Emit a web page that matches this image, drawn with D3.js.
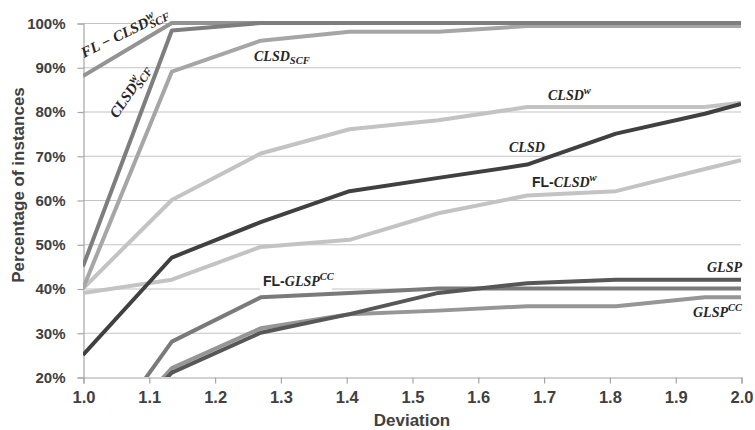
<!DOCTYPE html>
<html>
<head>
<meta charset="utf-8">
<script src="https://cdn.jsdelivr.net/npm/d3@7"></script>
<style>
  body { margin: 0; background: #fff; }
  svg { display: block; }
</style>
</head>
<body>
<div id="chart"></div>
<script>
const w = 755;
const h = 430;

// data
const deviation = [1.0, 1.135, 1.27, 1.405, 1.54, 1.675, 1.81, 1.945, 2.0];
const yTicks = [20, 30, 40, 50, 60, 70, 80, 90, 100];
const xTicks = [1.0, 1.1, 1.2, 1.3, 1.4, 1.5, 1.6, 1.7, 1.8, 1.9, 2.0];

const flClsdWScf = [88, 100, 100, 100, 100, 100, 100, 100, 100];
const clsdWScf   = [45, 98.3, 100, 100, 100, 100, 100, 100, 100];
const clsdScf    = [40, 89, 96, 98, 98, 99.3, 99.3, 99.3, 99.3];
const clsdW      = [40, 60, 70.5, 76, 78, 81, 81, 81, 82];
const flClsdW    = [39, 42, 49.4, 51, 57, 61, 62, 67, 69];
const flGlspCC   = [0, 28, 38, 39, 40, 40, 40, 40, 40];
const glspCC     = [0, 22, 31, 34.2, 35, 36, 36, 38, 38];
const glsp       = [0, 21, 30, 34.2, 39, 41.2, 42, 42, 42];
const clsd       = [25, 47, 55, 62, 65, 68, 75, 79.5, 81.7];

const series = [
  { name: 'CLSD^w', values: clsdW, color: '#c3c3c3' },
  { name: 'FL-CLSD^w', values: flClsdW, color: '#c3c3c3' },
  { name: 'CLSD_SCF', values: clsdScf, color: '#a6a6a6' },
  { name: 'FL-CLSD^w_SCF', values: flClsdWScf, color: '#939393' },
  { name: 'CLSD^w_SCF', values: clsdWScf, color: '#7e7e7e' },
  { name: 'GLSP^CC', values: glspCC, color: '#969696' },
  { name: 'FL-GLSP^CC', values: flGlspCC, color: '#7a7a7a' },
  { name: 'GLSP', values: glsp, color: '#575757' },
  { name: 'CLSD', values: clsd, color: '#404040' }
];

const xScale = d3.scaleLinear().domain([1, 2]).range([83, 741]);
const yScale = d3.scaleLinear().domain([20, 100]).range([377, 23]);

const svg = d3.select('#chart').append('svg')
  .attr('width', w)
  .attr('height', h);

svg.append('defs').append('clipPath')
  .attr('id', 'plot')
  .append('rect')
  .attr('x', xScale(1))
  .attr('y', yScale(100) - 4)
  .attr('width', xScale(2) - xScale(1))
  .attr('height', yScale(20) - yScale(100) + 4);

// grid
svg.append('g').selectAll('line')
  .data(yTicks.slice(1))
  .enter().append('line')
  .attr('x1', xScale(1)).attr('x2', xScale(2))
  .attr('y1', d => yScale(d) + 0.5).attr('y2', d => yScale(d) + 0.5)
  .style('stroke', '#c4c4c4')
  .style('stroke-width', 1.2);

// axes
const yAxis = d3.axisLeft(yScale).tickValues(yTicks).tickSize(6).tickPadding(12)
  .tickFormat(d => d + '%');
const yG = svg.append('g')
  .attr('transform', 'translate(' + (xScale(1) + 0.5) + ',0.5)')
  .call(yAxis);

const xAxis = d3.axisBottom(xScale).tickValues(xTicks).tickSize(6).tickPadding(8)
  .tickFormat(d3.format('.1f'));
const xG = svg.append('g')
  .attr('transform', 'translate(0.5,' + (yScale(20) + 0.5) + ')')
  .call(xAxis);

[yG, xG].forEach(g => {
  g.select('.domain').style('stroke', '#a6a6a6').style('stroke-width', 1.2);
  g.selectAll('.tick line').style('stroke', '#a6a6a6').style('stroke-width', 1.2);
  g.selectAll('.tick text')
    .style('font-family', '"Liberation Sans", Arial, sans-serif')
    .style('font-weight', 'bold')
    .style('fill', '#404040');
});
yG.selectAll('.tick text').style('font-size', '15px');
xG.selectAll('.tick text').style('font-size', '16.5px');

svg.append('text')
  .attr('transform', 'translate(24,185) rotate(-90)')
  .attr('text-anchor', 'middle')
  .style('font-family', '"Liberation Sans", Arial, sans-serif')
  .style('font-weight', 'bold')
  .style('font-size', '17px')
  .style('fill', '#404040')
  .text('Percentage of instances');

svg.append('text')
  .attr('x', 412)
  .attr('y', 426)
  .attr('text-anchor', 'middle')
  .style('font-family', '"Liberation Sans", Arial, sans-serif')
  .style('font-weight', 'bold')
  .style('font-size', '17px')
  .style('fill', '#404040')
  .text('Deviation');

// white box behind the FL-GLSP label hides the 40% grid line
svg.append('rect')
  .attr('x', 260).attr('y', 270)
  .attr('width', 72).attr('height', 22)
  .style('fill', '#fff');

// lines
const line = d3.line()
  .x((d, i) => xScale(deviation[i]))
  .y(d => yScale(d));

svg.append('g')
  .attr('clip-path', 'url(#plot)')
  .selectAll('path')
  .data(series)
  .enter().append('path')
  .attr('d', d => line(d.values))
  .style('fill', 'none')
  .style('stroke', d => d.color)
  .style('stroke-width', 4)
  .style('stroke-linejoin', 'round');

// labels
const serif = '"Liberation Serif", "Times New Roman", serif';
const sans = '"Liberation Sans", Arial, sans-serif';

function label(x, y, parts, anchor, rotate, size) {
  const fs = size || 14;
  const t = svg.append('text')
    .attr('transform', 'translate(' + x + ',' + y + ')' + (rotate ? ' rotate(' + rotate + ')' : ''))
    .attr('text-anchor', anchor || 'start')
    .style('fill', '#262626')
    .style('font-weight', 'bold')
    .style('font-size', fs + 'px');
  let shift = 0;
  let lastSup = null;
  parts.forEach(p => {
    const kind = p[1];
    const span = t.append('tspan').text(p[0]);
    if (kind === 'sans') {
      span.style('font-family', sans).style('font-style', 'normal');
    } else {
      span.style('font-family', serif).style('font-style', 'italic');
    }
    if (kind === 'sup') {
      span.attr('dy', -6 - shift).style('font-size', (fs - 3.5) + 'px');
      shift = -6;
      lastSup = span;
    } else if (kind === 'sub') {
      span.attr('dy', 3 - shift).style('font-size', (fs - 3.5) + 'px');
      if (lastSup) span.attr('dx', -lastSup.node().getComputedTextLength());
      shift = 3;
      lastSup = null;
    } else {
      if (shift) span.attr('dy', -shift);
      shift = 0;
      lastSup = null;
    }
  });
  return t;
}

label(84, 58, [['FL \u2212 CLSD', 'i'], ['w', 'sup'], ['SCF', 'sub']], 'start', -26, 15);
label(117, 119, [['CLSD', 'i'], ['w', 'sup'], ['SCF', 'sub']], 'start', -56, 15);
label(254, 61, [['CLSD', 'i'], ['SCF', 'sub']]);
label(548, 100, [['CLSD', 'i'], ['w', 'sup']]);
label(509, 152, [['CLSD', 'i']]);
label(532, 187, [['FL-', 'sans'], ['CLSD', 'i'], ['w', 'sup']]);
label(263, 286, [['FL-', 'sans'], ['GLSP', 'i'], ['CC', 'sup']]);
label(742, 272, [['GLSP', 'i']], 'end');
label(742, 317, [['GLSP', 'i'], ['CC', 'sup']], 'end');
</script>
</body>
</html>
